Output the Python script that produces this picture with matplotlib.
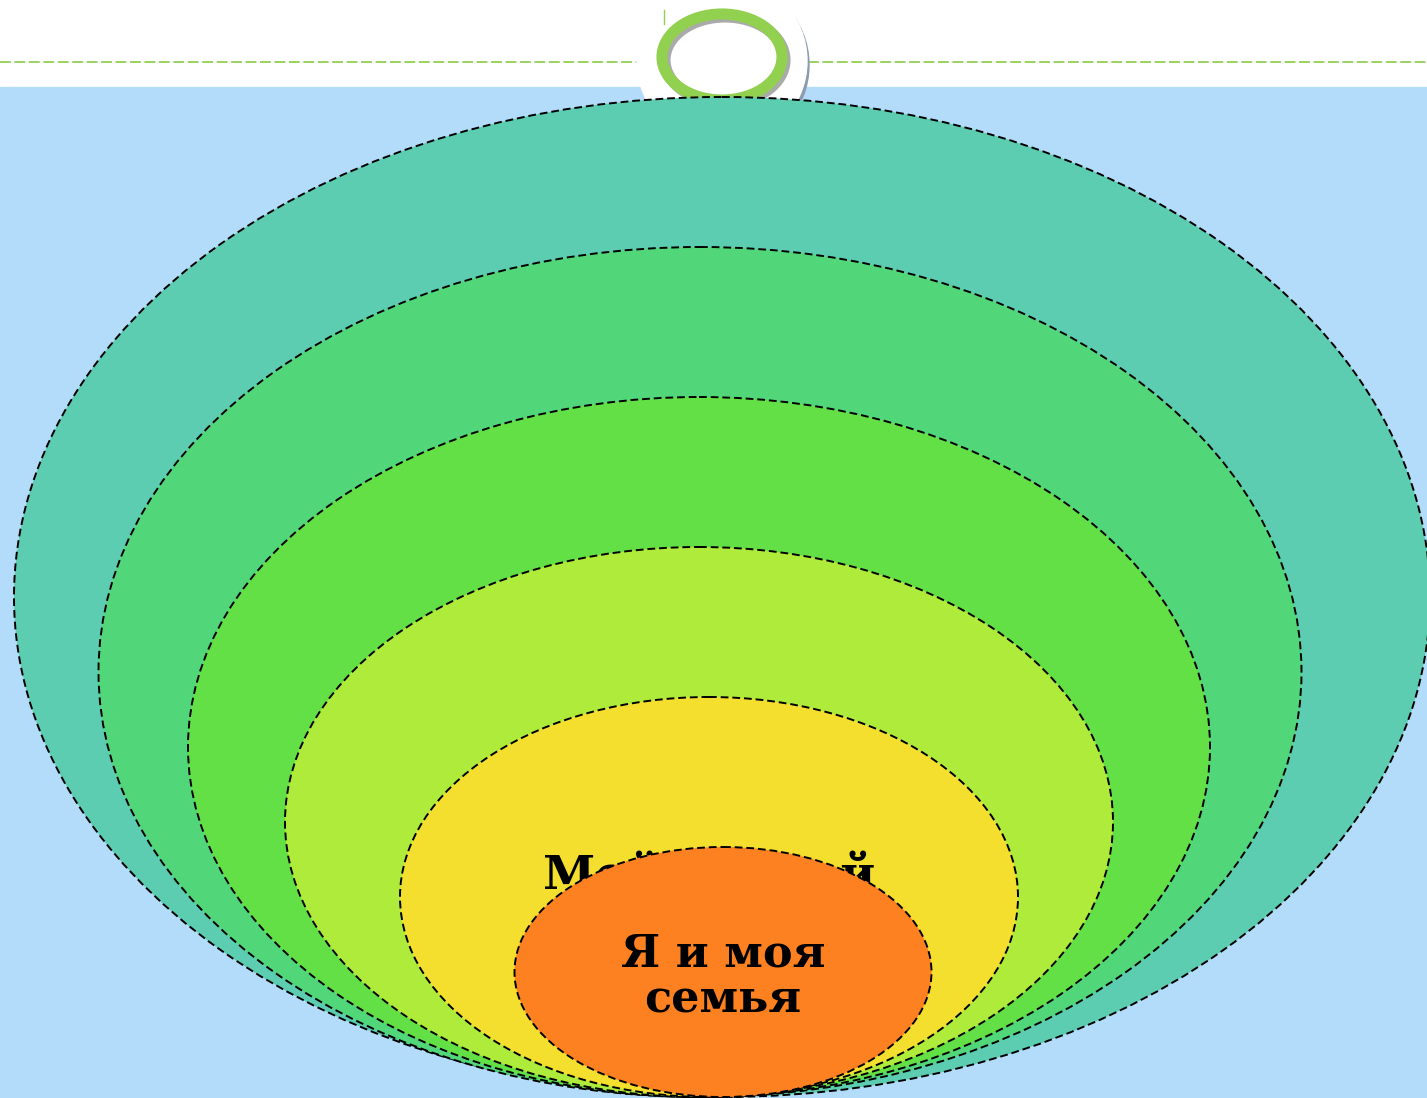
import matplotlib.pyplot as plt
from matplotlib.patches import Ellipse, Circle, Rectangle

# nested circles, outermost first (pixel space of the slide)
names = ["", "", "", "", "Мой родной", "Я и моя\nсемья"]
centers_x = [722, 700, 699, 699, 709, 723]
centers_y = [597, 672, 747, 822, 897, 972]
widths = [1416, 1203, 1022, 828, 618, 417]
heights = [1000, 850, 700, 550, 400, 250]
colors = ["#5ccdb1", "#52d67a", "#63e046", "#afeb3a", "#f4df2e", "#fe8121"]

W, H = 1427, 1098
fig = plt.figure(figsize=(W / 100, H / 100), dpi=100)
ax = fig.add_axes([0, 0, 1, 1])
ax.set_xlim(0, W)
ax.set_ylim(H, 0)
ax.axis("off")

# slide background
ax.add_patch(Rectangle((0, 87), W, H - 87, color="#b3dcfb", zorder=0))
ax.plot([0, 638], [62, 62], color="#92d050", lw=1.3, ls=(0, (6, 2)), zorder=1)
ax.plot([808, W], [62, 62], color="#92d050", lw=1.3, ls=(0, (6, 2)), zorder=1)

# title ring with white halo
ax.add_patch(Circle((724, 65), 85, color="#8a9bb0", zorder=2))
ax.add_patch(Circle((722, 61), 85, color="white", zorder=2))
ax.add_patch(Ellipse((725, 60), 120, 86, fill=False, ec="#aaaaaa", lw=8, zorder=3))
ax.add_patch(Ellipse((722, 57), 120, 86, fill=False, ec="#92d050", lw=8, zorder=3))
ax.plot([664, 664], [10, 24], color="#92d050", lw=1, zorder=3)

for i in range(len(widths)):
    ax.add_patch(Ellipse((centers_x[i], centers_y[i]), widths[i], heights[i],
                         fc=colors[i], ec="black", lw=1.4, ls=(0, (4, 2)),
                         zorder=4 + 2 * i))
    if names[i]:
        ty = centers_y[i] - 22 if i == 4 else centers_y[i] + 5
        ax.text(centers_x[i], ty, names[i], ha="center", va="center",
                fontsize=34 if i == 4 else 32, fontweight="bold",
                family="DejaVu Serif", linespacing=1.1, zorder=5 + 2 * i)

fig.savefig("out.png", dpi=100)
